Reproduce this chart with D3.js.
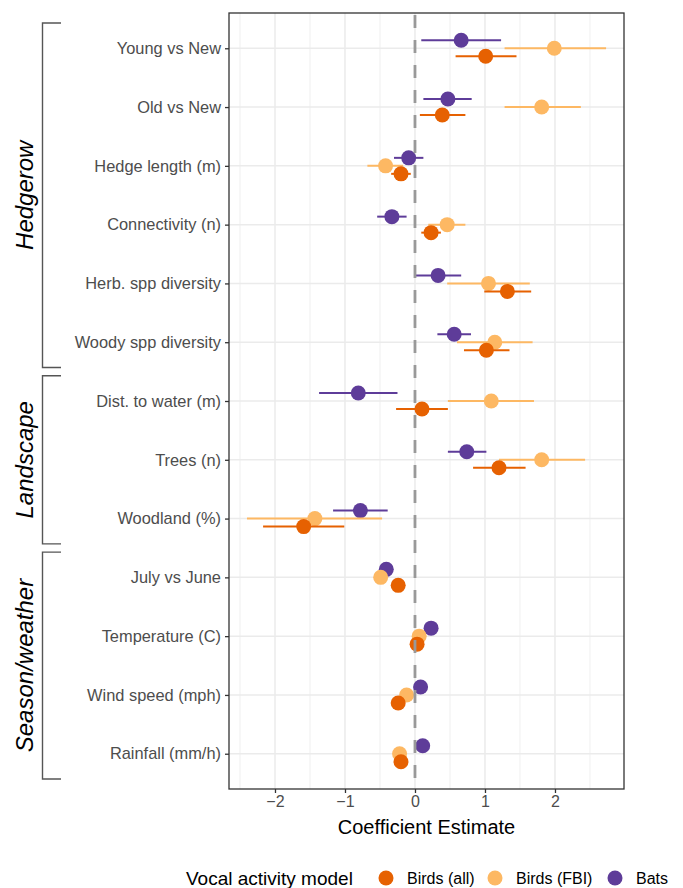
<!DOCTYPE html>
<html>
<head>
<meta charset="utf-8">
<script src="https://cdn.jsdelivr.net/npm/d3@7"></script>
<style>
  body { margin: 0; background: #fff; }
  svg { display: block; font-family: 'Liberation Sans', Arial, sans-serif; }
</style>
</head>
<body>
<svg width="683" height="888"></svg>
<script>
let width = 683
let height = 888
let margin = { top: 13, bottom: 99, left: 229, right: 59 }

let categories = [
  'Young vs New', 'Old vs New', 'Hedge length (m)', 'Connectivity (n)',
  'Herb. spp diversity', 'Woody spp diversity', 'Dist. to water (m)',
  'Trees (n)', 'Woodland (%)', 'July vs June', 'Temperature (C)',
  'Wind speed (mph)', 'Rainfall (mm/h)'
]
let groupNames = ['Hedgerow', 'Landscape', 'Season/weather']
let groupFirst = ['Young vs New', 'Dist. to water (m)', 'July vs June']
let groupLast = ['Woody spp diversity', 'Woodland (%)', 'Rainfall (mm/h)']

let seriesNames = ['Birds (all)', 'Birds (FBI)', 'Bats']
let seriesColors = ['#e66101', '#fdb863', '#5e3c99']

let birdsAllEst = [1.01, 0.39, -0.20, 0.23, 1.32, 1.02, 0.10, 1.20, -1.59, -0.24, 0.03, -0.24, -0.20]
let birdsAllLo  = [0.58, 0.07, -0.34, 0.09, 0.99, 0.70, -0.27, 0.83, -2.17, -0.30, -0.03, -0.30, -0.26]
let birdsAllHi  = [1.45, 0.72, -0.06, 0.37, 1.66, 1.35, 0.47, 1.58, -1.01, -0.18, 0.09, -0.18, -0.14]

let fbiEst = [1.99, 1.81, -0.42, 0.46, 1.05, 1.14, 1.09, 1.81, -1.43, -0.49, 0.06, -0.12, -0.22]
let fbiLo  = [1.28, 1.28, -0.68, 0.19, 0.46, 0.60, 0.47, 1.20, -2.40, -0.55, 0.00, -0.18, -0.28]
let fbiHi  = [2.73, 2.37, -0.17, 0.72, 1.64, 1.68, 1.70, 2.43, -0.47, -0.43, 0.12, -0.06, -0.16]

let batsEst = [0.66, 0.47, -0.09, -0.33, 0.33, 0.56, -0.81, 0.74, -0.78, -0.41, 0.23, 0.08, 0.11]
let batsLo  = [0.09, 0.12, -0.30, -0.54, 0.00, 0.32, -1.37, 0.47, -1.17, -0.47, 0.17, 0.02, 0.05]
let batsHi  = [1.23, 0.81, 0.12, -0.12, 0.66, 0.80, -0.25, 1.02, -0.39, -0.35, 0.29, 0.14, 0.17]

let xTicks = [-2, -1, 0, 1, 2]
let xMinor = [-2.5, -1.5, -0.5, 0.5, 1.5, 2.5]

let seriesData = [
  { name: 'Birds (all)', est: birdsAllEst, lo: birdsAllLo, hi: birdsAllHi },
  { name: 'Birds (FBI)', est: fbiEst, lo: fbiLo, hi: fbiHi },
  { name: 'Bats', est: batsEst, lo: batsLo, hi: batsHi }
]

let color = d3.scaleOrdinal().domain(seriesNames).range(seriesColors)

let xScale = d3.scaleLinear()
  .domain([-2.657, 2.986])
  .range([margin.left, width - margin.right])

let yScale = d3.scalePoint()
  .domain(categories)
  .range([margin.top, height - margin.bottom])
  .padding(0.6)

// dodge: bats on top, birds (all) at the bottom
let dodge = d3.scalePoint()
  .domain(['Bats', 'Birds (FBI)', 'Birds (all)'])
  .range([-8, 8])

let svg = d3.select('svg')

// grid
let grid = svg.append('g')
grid.selectAll('.minor')
  .data(xMinor)
  .enter()
  .append('line')
  .attr('x1', d => xScale(d)).attr('x2', d => xScale(d))
  .attr('y1', margin.top).attr('y2', height - margin.bottom)
  .attr('stroke', '#ebebeb').attr('stroke-width', 0.8)
grid.selectAll('.major')
  .data(xTicks)
  .enter()
  .append('line')
  .attr('x1', d => xScale(d)).attr('x2', d => xScale(d))
  .attr('y1', margin.top).attr('y2', height - margin.bottom)
  .attr('stroke', '#ebebeb').attr('stroke-width', 1.5)
grid.selectAll('.ymajor')
  .data(categories)
  .enter()
  .append('line')
  .attr('x1', margin.left).attr('x2', width - margin.right)
  .attr('y1', d => yScale(d)).attr('y2', d => yScale(d))
  .attr('stroke', '#ebebeb').attr('stroke-width', 1.5)

// point ranges, drawn bats first so birds (all) ends on top
let drawOrder = seriesData.slice().reverse()
drawOrder.forEach(s => {
  let g = svg.append('g')
  let rows = categories.map((c, i) => ({ cat: c, est: s.est[i], lo: s.lo[i], hi: s.hi[i] }))
  g.selectAll('line')
    .data(rows)
    .enter()
    .append('line')
    .attr('x1', d => xScale(d.lo))
    .attr('x2', d => xScale(d.hi))
    .attr('y1', d => yScale(d.cat) + dodge(s.name))
    .attr('y2', d => yScale(d.cat) + dodge(s.name))
    .attr('stroke', color(s.name))
    .attr('stroke-width', 2)
  g.selectAll('circle')
    .data(rows)
    .enter()
    .append('circle')
    .attr('cx', d => xScale(d.est))
    .attr('cy', d => yScale(d.cat) + dodge(s.name))
    .attr('r', 7.5)
    .attr('fill', color(s.name))
})

// zero line
svg.append('line')
  .attr('x1', xScale(0)).attr('x2', xScale(0))
  .attr('y1', margin.top).attr('y2', height - margin.bottom)
  .attr('stroke', '#999999')
  .attr('stroke-width', 2.8)
  .attr('stroke-dasharray', '13 12')
  .attr('stroke-dashoffset', -2)

// panel border
svg.append('rect')
  .attr('x', margin.left).attr('y', margin.top)
  .attr('width', width - margin.left - margin.right)
  .attr('height', height - margin.top - margin.bottom)
  .attr('fill', 'none')
  .attr('stroke', '#333333')
  .attr('stroke-width', 1.3)

// axes
let xAxis = svg.append('g')
  .attr('transform', `translate(0, ${height - margin.bottom})`)
  .call(d3.axisBottom(xScale).tickValues(xTicks).tickFormat(d3.format('d')).tickSize(4).tickPadding(3))
xAxis.select('.domain').remove()
xAxis.selectAll('line').attr('stroke', '#333').attr('stroke-width', 1.3)
xAxis.selectAll('text').attr('fill', '#4d4d4d').style('font-size', '16px')

let yAxis = svg.append('g')
  .attr('transform', `translate(${margin.left}, 0)`)
  .call(d3.axisLeft(yScale).tickSize(4).tickPadding(4))
yAxis.select('.domain').remove()
yAxis.selectAll('line').attr('stroke', '#333').attr('stroke-width', 1.3)
yAxis.selectAll('text').attr('fill', '#4d4d4d').style('font-size', '16.4px')

svg.append('text')
  .attr('x', (margin.left + width - margin.right) / 2)
  .attr('y', 834)
  .attr('text-anchor', 'middle')
  .style('font-size', '20px')
  .text('Coefficient Estimate')

// group brackets
let half = yScale.step() * 0.43
groupNames.forEach((name, i) => {
  let y0 = yScale(groupFirst[i]) - half
  let y1 = yScale(groupLast[i]) + half
  svg.append('path')
    .attr('d', `M61,${y0}H42.5V${y1}H61`)
    .attr('fill', 'none')
    .attr('stroke', '#555')
    .attr('stroke-width', 1.4)
  svg.append('text')
    .attr('transform', `translate(33, ${(y0 + y1) / 2}) rotate(-90)`)
    .attr('text-anchor', 'middle')
    .style('font-size', '24px')
    .style('font-style', 'italic')
    .text(name)
})

// legend
let legend = svg.append('g')
legend.append('text')
  .attr('x', 186).attr('y', 885)
  .style('font-size', '19px')
  .text('Vocal activity model')
let legendX = [386, 495, 615]
seriesNames.forEach((name, i) => {
  legend.append('circle')
    .attr('cx', legendX[i]).attr('cy', 878)
    .attr('r', 7.5)
    .attr('fill', color(name))
  legend.append('text')
    .attr('x', legendX[i] + 21).attr('y', 884)
    .style('font-size', '16px')
    .text(name)
})
</script>
</body>
</html>
